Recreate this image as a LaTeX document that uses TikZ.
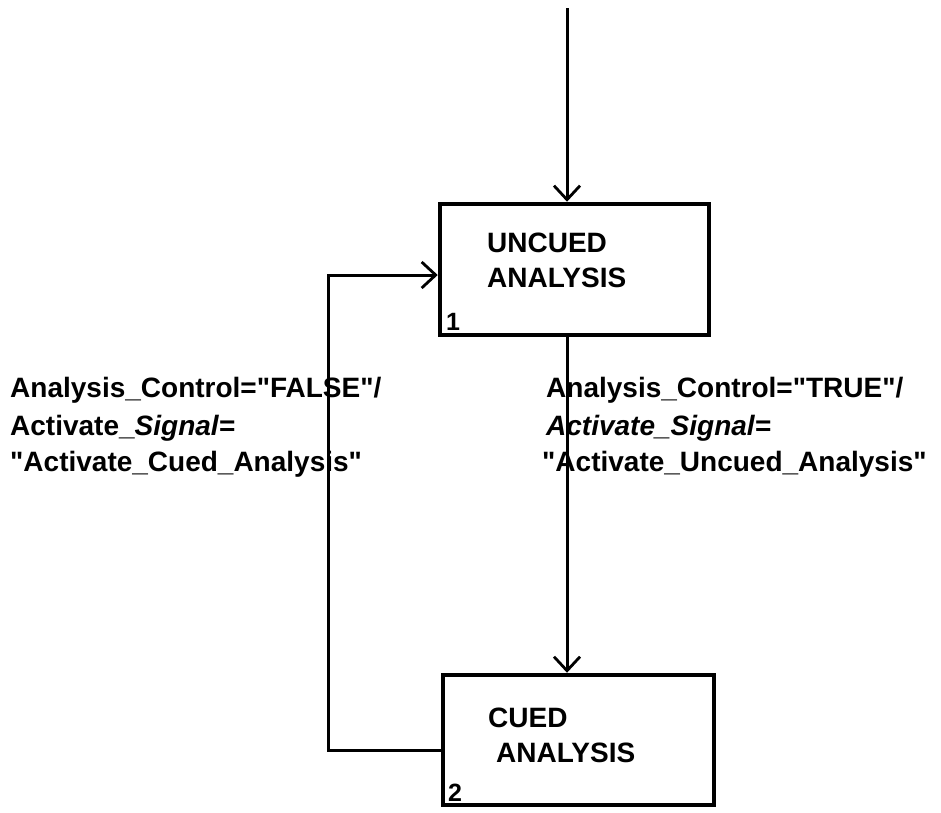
\documentclass[tikz,border=0pt]{standalone}
\usepackage{fontspec}
\setmainfont{Liberation Sans}
\usetikzlibrary{arrows.meta}
% straight double quote, taken as a glyph so no ligature mapping curls it
\newcommand{\qt}{\XeTeXglyph\XeTeXcharglyph"22\relax}
\begin{document}
\begin{tikzpicture}[x=1pt,y=-1pt,
  state/.style={draw,line width=4.5pt,rectangle,inner sep=0pt},
  flow/.style={line width=3pt,-{Straight Barb[length=14pt,width=26pt,line width=2.8pt]}},
  lbl/.style={anchor=base west,inner sep=0pt,font=\fontsize{28}{32}\selectfont\bfseries},
  num/.style={anchor=base west,inner sep=0pt,font=\fontsize{25}{28}\selectfont\bfseries}]
  \useasboundingbox (0,0) rectangle (941,812);

  % state boxes
  \node[state,minimum width=269pt,minimum height=131pt] (u) at (574.5,269.5) {};
  \node[state,minimum width=271pt,minimum height=130pt] (c) at (578.5,740) {};

  % box captions
  \node[lbl] (u1) at (487,252) {UNCUED};
  \node[lbl] (u2) at (487,287) {ANALYSIS};
  \node[num] (un) at (446,330) {1};
  \node[lbl] (c1) at (488,727) {CUED};
  \node[lbl] (c2) at (496,762) {ANALYSIS};
  \node[num] (cn) at (448,801) {2};

  % route points
  \coordinate (entry) at (567,8);
  \coordinate (fbb) at (328,750);
  \coordinate (fbt) at (328,275);

  % transition labels
  \node[lbl] (f1) at (10,397) {Analysis\_Control=\qt FALSE\qt/};
  \node[lbl] (f2) at (10,435) {Activate\_\textit{Signal=}};
  \node[lbl] (f3) at (10,471) {\qt Activate\_Cued\_Analysis\qt};
  \node[lbl] (t1) at (546,397) {Analysis\_Control=\qt TRUE\qt/};
  \node[lbl] (t2) at (546,435) {\textit{Activate\_Signal=}};
  \node[lbl] (t3) at (542,471) {\qt Activate\_Uncued\_Analysis\qt};

  % connectors
  \draw[flow] (entry) -- (entry |- u.north);
  \draw[flow] (u.south -| entry) -- (c.north -| entry);
  \draw[flow] (c.west |- fbb) -- (fbb) -- (fbt) -- (u.west |- fbt);
\end{tikzpicture}
\end{document}
